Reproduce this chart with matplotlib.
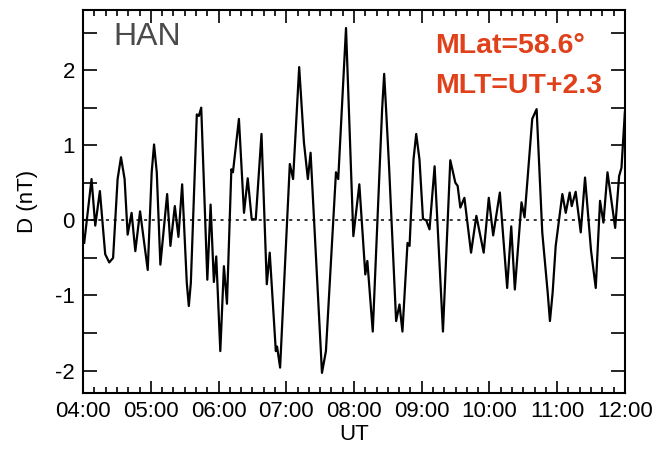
import matplotlib
matplotlib.use("Agg")
import matplotlib.pyplot as plt
from matplotlib.ticker import MultipleLocator, FuncFormatter

# minutes after 04:00 UT
minutes = [0.9, 7.4, 10.7, 14.8, 19.5, 23.1, 26.5, 30.5, 33.5, 36.7, 39.4, 42.9, 46.2,
           50.4, 57.2, 60.7, 62.8, 65.2, 68.4, 74.4, 77.3, 81.2, 84.4, 87.7, 91.8,
           93.6, 95.4, 100.7, 102.5, 104.6, 110.0, 112.9, 115.8, 117.9, 121.5,
           124.7, 127.4, 131.3, 132.7, 138.0, 142.5, 145.8, 149.3, 152.9, 158.0,
           162.7, 165.3, 170.7, 171.8, 174.5, 183.1, 186.0, 191.4, 195.6, 199.1,
           201.5, 211.6, 215.1, 224.0, 226.0, 232.9, 239.4, 244.7, 250.0, 251.8,
           256.6, 264.9, 266.7, 268.4, 271.1, 277.3, 280.3, 282.9, 287.4, 289.2,
           292.7, 295.1, 298.0, 301.1, 304.0, 306.9, 311.4, 318.8, 325.3, 329.8,
           331.8, 334.2, 337.8, 343.7, 348.4, 354.9, 359.4, 363.3, 369.2, 375.7,
           379.3, 382.5, 388.4, 391.1, 397.9, 401.8, 406.8, 411.6, 413.6, 416.0,
           418.7, 424.6, 427.6, 431.1, 432.9, 436.4, 440.9, 444.7, 450.0, 454.2,
           458.0, 461.0, 464.6, 471.4, 474.9, 477.0, 480.0]
d_nt = [-0.30, 0.55, -0.07, 0.39, -0.45, -0.56, -0.50, 0.55, 0.84, 0.55, -0.19, 0.10, -0.41,
        0.12, -0.66, 0.64, 1.01, 0.64, -0.59, 0.35, -0.34, 0.19, -0.22, 0.48, -0.83,
        -1.14, -0.83, 1.41, 1.39, 1.50, -0.79, 0.21, -0.82, -0.48, -1.74,
        -0.61, -1.11, 0.68, 0.64, 1.35, 0.10, 0.56, 0.02, 0.01, 1.15,
        -0.85, -0.43, -1.74, -1.68, -1.96, 0.75, 0.55, 2.04, 1.04, 0.55,
        0.90, -2.03, -1.74, 0.64, 0.55, 2.56, -0.21, 0.48, -0.72, -0.54,
        -1.48, 1.48, 1.95, 1.48, 0.70, -1.34, -1.12, -1.48, -0.30, -0.34,
        0.81, 1.15, 0.81, 0.02, 0.00, -0.12, 0.72, -1.48, 0.80, 0.50,
        0.46, 0.17, 0.30, -0.43, 0.06, -0.43, 0.30, -0.20, 0.37, -0.90,
        -0.08, -0.92, 0.24, 0.04, 1.35, 1.48, -0.16, -0.96, -1.34, -0.96,
        -0.34, 0.35, 0.10, 0.37, 0.19, 0.38, -0.16, 0.57, -0.40, -0.90,
        0.26, -0.03, 0.64, -0.10, 0.59, 0.70, 1.44]
hour_labels = ["04:00", "05:00", "06:00", "07:00", "08:00", "09:00",
               "10:00", "11:00", "12:00"]
station = "HAN"
info_lines = ["MLat=58.6\u00b0", "MLT=UT+2.3"]

plt.rcParams['font.family'] = ['Liberation Sans', 'DejaVu Sans']

fig = plt.figure(figsize=(6.55, 4.54), dpi=100)
ax = fig.add_axes([0.127, 0.134, 0.827, 0.844])

hours = [4 + m / 60 for m in minutes]
ax.plot(hours, d_nt, color='black', linewidth=1.6, solid_joinstyle='round')
ax.axhline(0, color='black', linestyle=(0, (2, 3)), linewidth=1.1)

ax.set_xlim(4, 12)
ax.set_ylim(-2.3, 2.8)
ax.set_xticks(range(4, 13))
ax.set_xticklabels(hour_labels)
ax.xaxis.set_minor_locator(MultipleLocator(1 / 6))
ax.yaxis.set_major_locator(MultipleLocator(1))
ax.yaxis.set_minor_locator(MultipleLocator(0.5))
ax.yaxis.set_major_formatter(FuncFormatter(lambda v, p: f"{v:.0f}"))

ax.tick_params(which='both', direction='in', top=True, right=True,
               labelsize=16, width=1.2, pad=6)
ax.tick_params(axis='x', which='major', length=9)
ax.tick_params(axis='x', which='minor', length=4)
ax.tick_params(axis='y', which='both', length=10)
for s in ax.spines.values():
    s.set_linewidth(1.5)

ax.set_xlabel("UT", fontsize=16, labelpad=1)
ax.set_ylabel("D (nT)", fontsize=16, labelpad=12)

ax.text(0.055, 0.968, station, transform=ax.transAxes, fontsize=23,
        color='#4a4a4a', va='top', ha='left')
ax.text(0.649, 0.94, info_lines[0], transform=ax.transAxes, fontsize=20.5,
        color='#e0401a', fontweight='bold', va='top', ha='left')
ax.text(0.649, 0.835, info_lines[1], transform=ax.transAxes, fontsize=20.5,
        color='#e0401a', fontweight='bold', va='top', ha='left')

fig.savefig("out.png", dpi=100)
